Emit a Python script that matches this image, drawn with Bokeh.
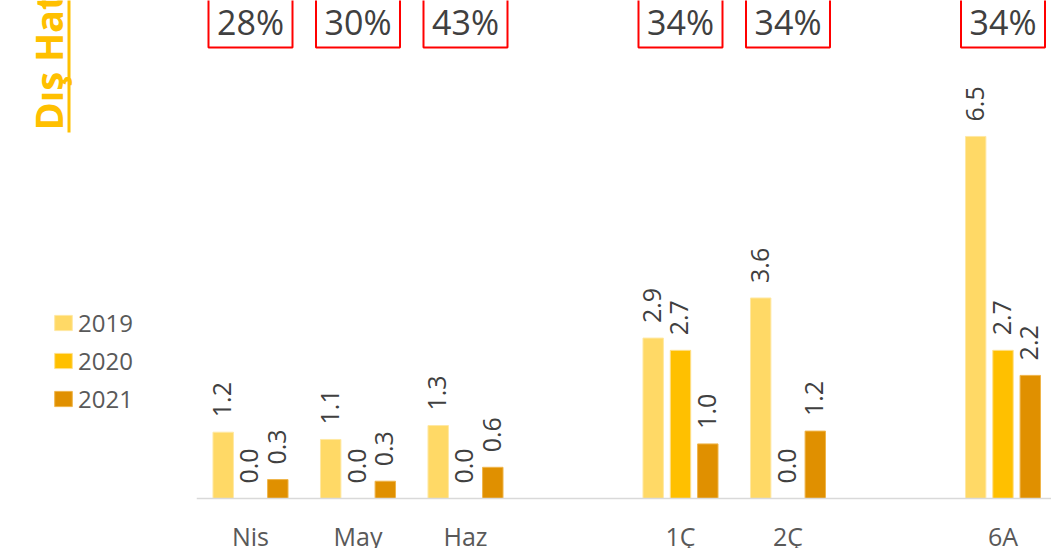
import math
from bokeh.plotting import figure
from bokeh.models import (ColumnDataSource, LabelSet, Label, Range1d,
                          BoxAnnotation, Legend, LegendItem)
from bokeh.core.properties import value
from bokeh.embed import file_html
from bokeh.resources import INLINE

# ---------------- data ----------------
categories = ["Nis", "May", "Haz", "1Ç", "2Ç", "6A"]
slots = [0, 1, 2, 4, 5, 7]          # category slot on the axis (gaps between groups)
years = ["2019", "2020", "2021"]
v2019 = [1.19, 1.06, 1.31, 2.88, 3.60, 6.50]
v2020 = [0.0, 0.0, 0.0, 2.66, 0.0, 2.66]
v2021 = [0.34, 0.31, 0.56, 0.98, 1.21, 2.21]
shares = ["28%", "30%", "43%", "34%", "34%", "34%"]
title_text = "Dış Hat"

colors = ["#FFD966", "#FFC000", "#E09000"]
edge_colors = ["#FFE8A3", "#FFE08A", "#EFB54A"]
FONT = "Open Sans"

W, H = 1051, 548
p = figure(width=W, height=H, output_backend="svg", toolbar_location=None,
           x_range=Range1d(-2.3256, 7.4512), y_range=Range1d(-0.8977, 8.9408),
           min_border=0)
p.axis.visible = False
p.grid.visible = False
p.outline_line_color = None
p.background_fill_color = "white"
p.border_fill_color = "white"

offsets = [-0.254, 0.0, 0.254]
series = [v2019, v2020, v2021]
renderers = []
for k, (vals, off) in enumerate(zip(series, offsets)):
    src = ColumnDataSource(dict(
        x=[s + off for s in slots],
        top=vals,
        lab=[f"{v:.1f}" for v in vals],
    ))
    r = p.vbar(x="x", top="top", bottom=0, width=0.19, source=src,
               fill_color=colors[k], line_color=edge_colors[k], line_width=1)
    renderers.append(r)
    p.add_layout(LabelSet(x="x", y="top", text="lab", source=src,
                          angle=math.pi / 2, y_offset=15, x_offset=-1,
                          text_align="left", text_baseline="middle",
                          text_font=value(FONT), text_font_size=value("25px"),
                          text_color=value("#404040")))

# category axis line
p.segment(x0=[-0.5], y0=[0], x1=[7.5], y1=[0], line_color="#D9D9D9", line_width=1.5)

# category labels
cat_src = ColumnDataSource(dict(x=slots, y=[0] * len(slots), t=categories))
p.add_layout(LabelSet(x="x", y="y", text="t", source=cat_src, y_offset=-38,
                      text_align="center", text_baseline="middle",
                      text_font=value(FONT), text_font_size=value("25px"),
                      text_color=value("#595959")))

# share boxes at top
box_src = ColumnDataSource(dict(x=slots, y=[8.815] * len(slots),
                                ty=[8.564] * len(slots), t=shares))
p.rect(x="x", y="y", width=84, height=80, width_units="screen", height_units="screen",
       source=box_src, fill_color="white", line_color="#FF0000", line_width=2)
p.add_layout(LabelSet(x="x", y="ty", text="t", source=box_src,
                      text_align="center", text_baseline="middle",
                      text_font=value(FONT), text_font_size=value("34px"),
                      text_color=value("#404040")))

# rotated title + underline
p.add_layout(Label(x=47, y=418, x_units="screen", y_units="screen", text=title_text,
                   angle=math.pi / 2, text_align="left", text_baseline="middle",
                   text_font=FONT, text_font_size="38px", text_font_style="bold",
                   text_color="#FFC000"))
p.add_layout(BoxAnnotation(left=67, right=70, bottom=416, top=600,
                           left_units="screen", right_units="screen",
                           bottom_units="screen", top_units="screen",
                           fill_color="#FFC000", fill_alpha=1, line_color=None))

# legend
legend = Legend(items=[LegendItem(label=y, renderers=[r]) for y, r in zip(years, renderers)],
                location=(52, 133), orientation="vertical",
                border_line_color=None, background_fill_alpha=0,
                padding=0, margin=0, spacing=5,
                glyph_width=22, glyph_height=19, label_standoff=4, label_height=33,
                label_text_font=FONT, label_text_font_size="24px",
                label_text_color="#595959")
p.add_layout(legend)

open("out.html", "w").write(file_html(p, INLINE))
